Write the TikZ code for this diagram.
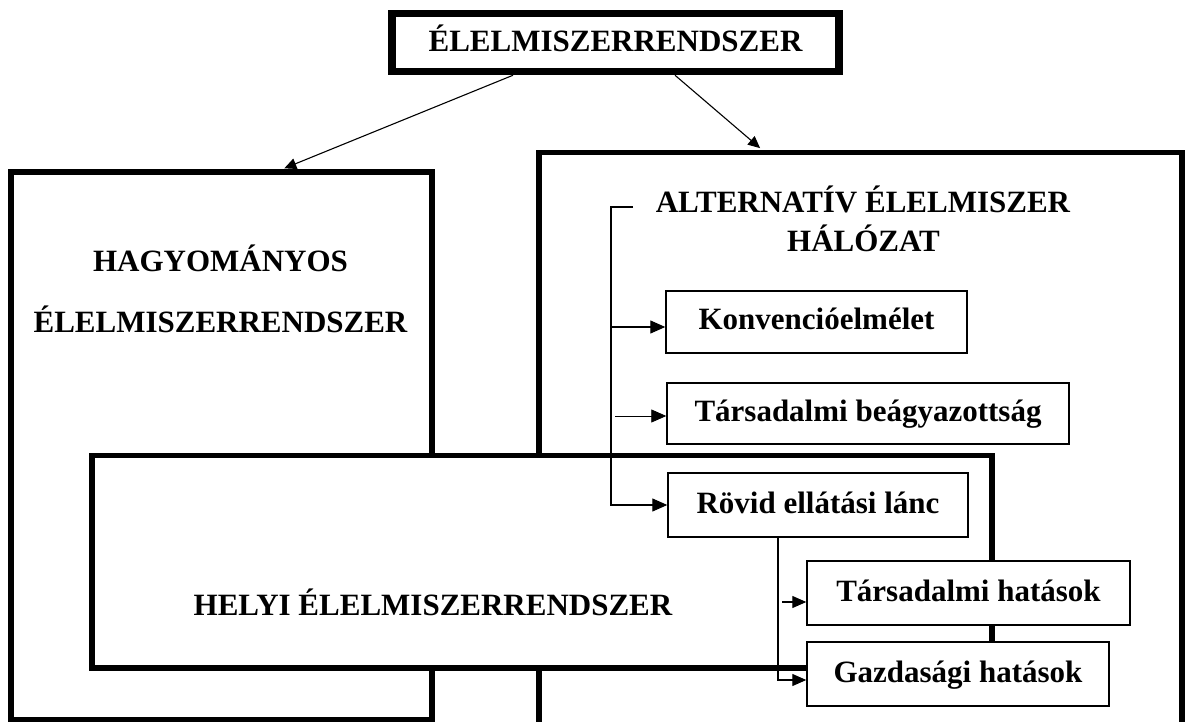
\documentclass[tikz,border=0pt]{standalone}
\usepackage{fontspec}
\setmainfont{Liberation Serif}
\usetikzlibrary{arrows.meta}
\begin{document}
\begin{tikzpicture}[x=1pt,y=-1pt,
  bigbox/.style={draw, line width=5.5pt, fill=white, inner sep=0pt},
  smallbox/.style={draw, line width=1.4pt, fill=white, inner sep=0pt,
    text height=24pt, text depth=8pt, font=\bfseries\fontsize{31}{36}\selectfont},
  lbl/.style={inner sep=0pt, font=\bfseries\fontsize{31}{36}\selectfont},
  conn/.style={line width=1.1pt},
  arr/.style={conn, -{Triangle[length=15pt,width=13pt]}},
  sarr/.style={conn, -{Triangle[length=14pt,width=12pt]}},
  tarr/.style={conn, -{Triangle[length=12pt,width=11pt]}}]
\useasboundingbox (0,0) rectangle (1187,722);
\clip (0,0) rectangle (1187,722);

% main frames
\node[bigbox, minimum width=421pt, minimum height=548pt] (hag) at (221.5,446) {};
\node[bigbox, minimum width=643pt, minimum height=647pt] (alt) at (860.5,476) {};
\node[lbl, anchor=base] (hag1) at (220.5,272) {HAGYOMÁNYOS};
\node[lbl, anchor=base] (hag2) at (220.5,332) {ÉLELMISZERRENDSZER};
\node[lbl, anchor=base] (alt1) at (863,213) {ALTERNATÍV ÉLELMISZER};
\node[lbl, anchor=base] (alt2) at (863.5,252) {HÁLÓZAT};

% top box
\node[draw, line width=7.5pt, fill=white, inner sep=0pt, minimum width=447pt,
  minimum height=58pt, text height=25pt, text depth=6pt,
  font=\bfseries\fontsize{31}{36}\selectfont] (top) at (615.5,42.5) {ÉLELMISZERRENDSZER};

% top arrows
\coordinate (ta) at (513,0);
\coordinate (tb0) at (282,0);
\coordinate (tc) at (675,0);
\coordinate (td) at (762,0);
\draw[tarr, shorten >=2.5pt] (top.south -| ta) -- (hag.north -| tb0);
\draw[tarr, shorten >=2.5pt] (top.south -| tc) -- (alt.north -| td);

% local food system
\node[bigbox, minimum width=900pt, minimum height=212.5pt] (helyi) at (542,561.75) {};
\node[lbl, anchor=base] (helyitext) at (433,615) {HELYI ÉLELMISZERRENDSZER};

% inner boxes
\node[smallbox, minimum width=301pt, minimum height=62pt] (konv) at (816.5,322) {Konvencióelmélet};
\node[smallbox, minimum width=402pt, minimum height=61pt] (tb) at (868,413.5) {Társadalmi beágyazottság};
\node[smallbox, minimum width=300pt, minimum height=64pt] (rovid) at (818,505) {Rövid ellátási lánc};
\node[smallbox, minimum width=323pt, minimum height=64pt] (th) at (968.5,593) {Társadalmi hatások};
\node[smallbox, minimum width=302pt, minimum height=64pt] (gh) at (958,674) {Gazdasági hatások};

% bracket connectors
\coordinate (bt) at (633,207);
\coordinate (bc) at (611,207);
\draw[arr] (bt) -- (bc) |- (rovid.west);
\coordinate (k0) at (611,327);
\draw[arr] (k0) -- (k0 -| konv.west);
\coordinate (t0) at (615,416);
\draw[arr, line width=0.8pt] (t0) -- (t0 -| tb.west);

\coordinate (r0) at (778,0);
\coordinate (g0) at (778,680);
\draw[sarr] (rovid.south -| r0) -- (g0) -- (g0 -| gh.west);
\coordinate (h0) at (782,602);
\draw[sarr] (h0) -- (h0 -| th.west);
\end{tikzpicture}
\end{document}
